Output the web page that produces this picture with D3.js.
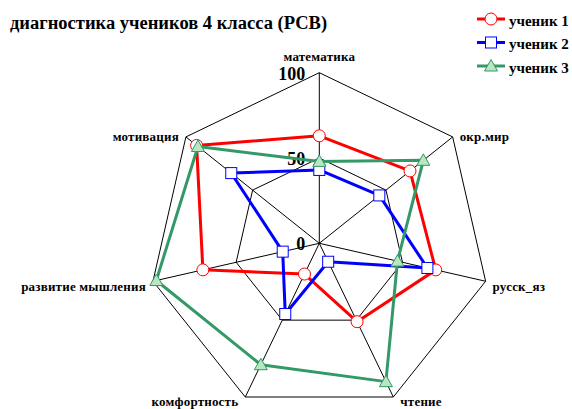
<!DOCTYPE html>
<html>
<head>
<meta charset="utf-8">
<script src="https://cdn.jsdelivr.net/npm/d3@7"></script>
<style>
  body { margin: 0; background: #fff; }
  svg { display: block; }
  text { font-family: "Liberation Serif", "Times New Roman", serif; font-weight: bold; fill: #000; }
</style>
</head>
<body>
<div id="chart"></div>
<script>
var categories = ['математика', 'окр.мир', 'русск_яз', 'чтение', 'комфортность', 'развитие мышления', 'мотивация']
var student1 = [63, 68, 70, 51, 20, 70, 92]
var student2 = [43, 45, 65, 12, 46, 22, 66]
var student3 = [48, 78, 47, 90, 79, 98, 91]
var seriesNames = ['ученик 1', 'ученик 2', 'ученик 3']
var gridTicks = [0, 50, 100]

var width = 572, height = 409
var cx = 319.3, cy = 243.3, R = 170.6

var series = [
    { name: seriesNames[0], values: student1, color: '#ff0000', fill: '#ffffff', marker: 'circle' },
    { name: seriesNames[1], values: student2, color: '#0000ff', fill: '#ffffff', marker: 'square' },
    { name: seriesNames[2], values: student3, color: '#339966', fill: '#b8e6c0', marker: 'triangle' }
]

var svg = d3.select('#chart').append('svg').attr('width', width).attr('height', height)

var r = d3.scaleLinear().domain([0, 100]).range([0, R])
var angle = d3.scaleLinear().domain([0, categories.length]).range([0, 2 * Math.PI])

function pt(i, v) {
    var a = angle(i)
    return [cx + Math.sin(a) * r(v), cy - Math.cos(a) * r(v)]
}

// title
svg.append('text')
    .attr('x', 10).attr('y', 29)
    .style('font-size', '18.5px')
    .text('диагностика учеников 4 класса (РСВ)')

// grid rings
var grid = svg.append('g').attr('fill', 'none').attr('stroke', '#000').attr('stroke-width', 1)
gridTicks.filter(function (t) { return t > 0 }).forEach(function (t) {
    var ring = categories.map(function (c, i) { return pt(i, t) })
    grid.append('path').attr('d', d3.line()(ring) + 'Z')
})
categories.forEach(function (c, i) {
    var p = pt(i, 100)
    grid.append('line').attr('x1', cx).attr('y1', cy).attr('x2', p[0]).attr('y2', p[1])
})

// tick labels
svg.append('g').selectAll('text').data(gridTicks).join('text')
    .attr('x', cx - 14)
    .attr('y', function (d) { return cy - r(d) + 7 })
    .attr('text-anchor', 'end')
    .style('font-size', '18px')
    .text(function (d) { return d })

// category labels
svg.append('g').selectAll('text').data(categories).join('text')
    .style('font-size', '13px')
    .style('letter-spacing', '0.2px')
    .attr('text-anchor', function (d, i) {
        var s = Math.sin(angle(i))
        return Math.abs(s) < 0.01 ? 'middle' : (s > 0 ? 'start' : 'end')
    })
    .attr('x', function (d, i) {
        var s = Math.sin(angle(i))
        var p = pt(i, 100)
        return Math.abs(s) < 0.01 ? p[0] : p[0] + (s > 0 ? 7 : -7)
    })
    .attr('y', function (d, i) {
        var p = pt(i, 100)
        var dy = -Math.cos(angle(i))
        if (dy < -0.99) return p[1] - 12
        return Math.min(p[1] + 4 + (dy > 0 ? 5 + 3 * dy : 0), height - 3)
    })
    .text(function (d) { return d })

function drawMarker(g, type, color, fill) {
    if (type == 'circle') {
        g.append('circle').attr('r', 6).attr('fill', fill).attr('stroke', color).attr('stroke-width', 1)
    } else if (type == 'square') {
        g.append('rect').attr('x', -5.5).attr('y', -5.5).attr('width', 11).attr('height', 11)
            .attr('fill', fill).attr('stroke', color).attr('stroke-width', 1)
    } else {
        g.append('path').attr('d', 'M0,-6.5L6.5,5L-6.5,5Z')
            .attr('fill', fill).attr('stroke', color).attr('stroke-width', 1)
    }
}

// series
series.forEach(function (s) {
    var g = svg.append('g')
    var pts = s.values.map(function (v, i) { return pt(i, v) })
    g.append('path')
        .attr('d', d3.line()(pts) + 'Z')
        .attr('fill', 'none')
        .attr('stroke', s.color)
        .attr('stroke-width', 3)
        .attr('stroke-linejoin', 'round')
    pts.forEach(function (p) {
        var m = g.append('g').attr('transform', 'translate(' + p[0] + ',' + p[1] + ')')
        drawMarker(m, s.marker, s.color, s.fill)
    })
})

// legend
var legend = svg.append('g')
series.forEach(function (s, i) {
    var y = 19 + i * 23.5
    legend.append('line').attr('x1', 477).attr('x2', 505).attr('y1', y).attr('y2', y)
        .attr('stroke', s.color).attr('stroke-width', 3)
    var m = legend.append('g').attr('transform', 'translate(491,' + y + ')')
    drawMarker(m, s.marker, s.color, s.fill)
    legend.append('text').attr('x', 509).attr('y', y + 6.5)
        .style('font-size', '15px')
        .text(s.name)
})
</script>
</body>
</html>
